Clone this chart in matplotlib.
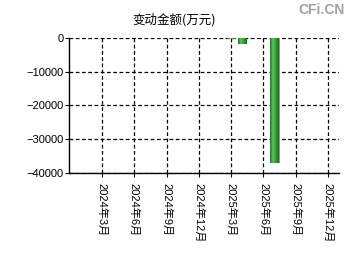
import numpy as np
import matplotlib
matplotlib.use("Agg")
import matplotlib.pyplot as plt
from matplotlib.colors import LinearSegmentedColormap

plt.rcParams['font.family'] = ['Liberation Sans', 'Noto Sans CJK SC']

# month index: 0 = 2024-03
tick_months = [0, 3, 6, 9, 12, 15, 18, 21]
tick_labels = ['2024年3月', '2024年6月', '2024年9月', '2024年12月',
               '2025年3月', '2025年6月', '2025年9月', '2025年12月']
bar_months = [12, 13, 16]
bar_values = [-450, -1700, -37200]

fig = plt.figure(figsize=(3.5, 2.6), dpi=100)
ax = fig.add_axes([0.197, 0.335, 0.771, 0.519])

green = LinearSegmentedColormap.from_list('g', ['#1f7a1f', '#5cc45c', '#349a34', '#1a6b1a'])
grad = np.linspace(0, 1, 50).reshape(1, -1)
w = 0.75
for m, v in zip(bar_months, bar_values):
    # shadow
    ax.bar(m + 0.12, v, width=w, color='#9a9a9a', zorder=2, align='center')
    ax.imshow(grad, cmap=green, aspect='auto', zorder=3,
              extent=(m - w / 2, m + w / 2, v, 0))

ax.set_xlim(-3.06, 22.0)
ax.set_ylim(-40000, 0)
ax.set_yticks([0, -10000, -20000, -30000, -40000])
ax.set_xticks(tick_months)
ax.set_xticklabels(tick_labels, rotation=270, fontsize=8, va='top', ha='center')
ax.tick_params(axis='y', labelsize=8, length=3, pad=1)
ax.tick_params(axis='x', length=3, pad=4)
ax.grid(True, color='black', linestyle=(0, (3, 2)), linewidth=0.9)
ax.set_axisbelow(True)
for s in ['top', 'right']:
    ax.spines[s].set_visible(False)
for s in ['left', 'bottom']:
    ax.spines[s].set_linewidth(1.0)

fig.text(0.497, 0.925, '变动金额(万元)', ha='center', va='center', fontsize=9,
         family=['Noto Sans CJK SC'])
fig.text(0.985, 0.96, 'CFi.CN', ha='right', va='center', fontsize=10,
         color='#a0a0a0', fontweight='bold')

fig.savefig('out.png', dpi=100)
